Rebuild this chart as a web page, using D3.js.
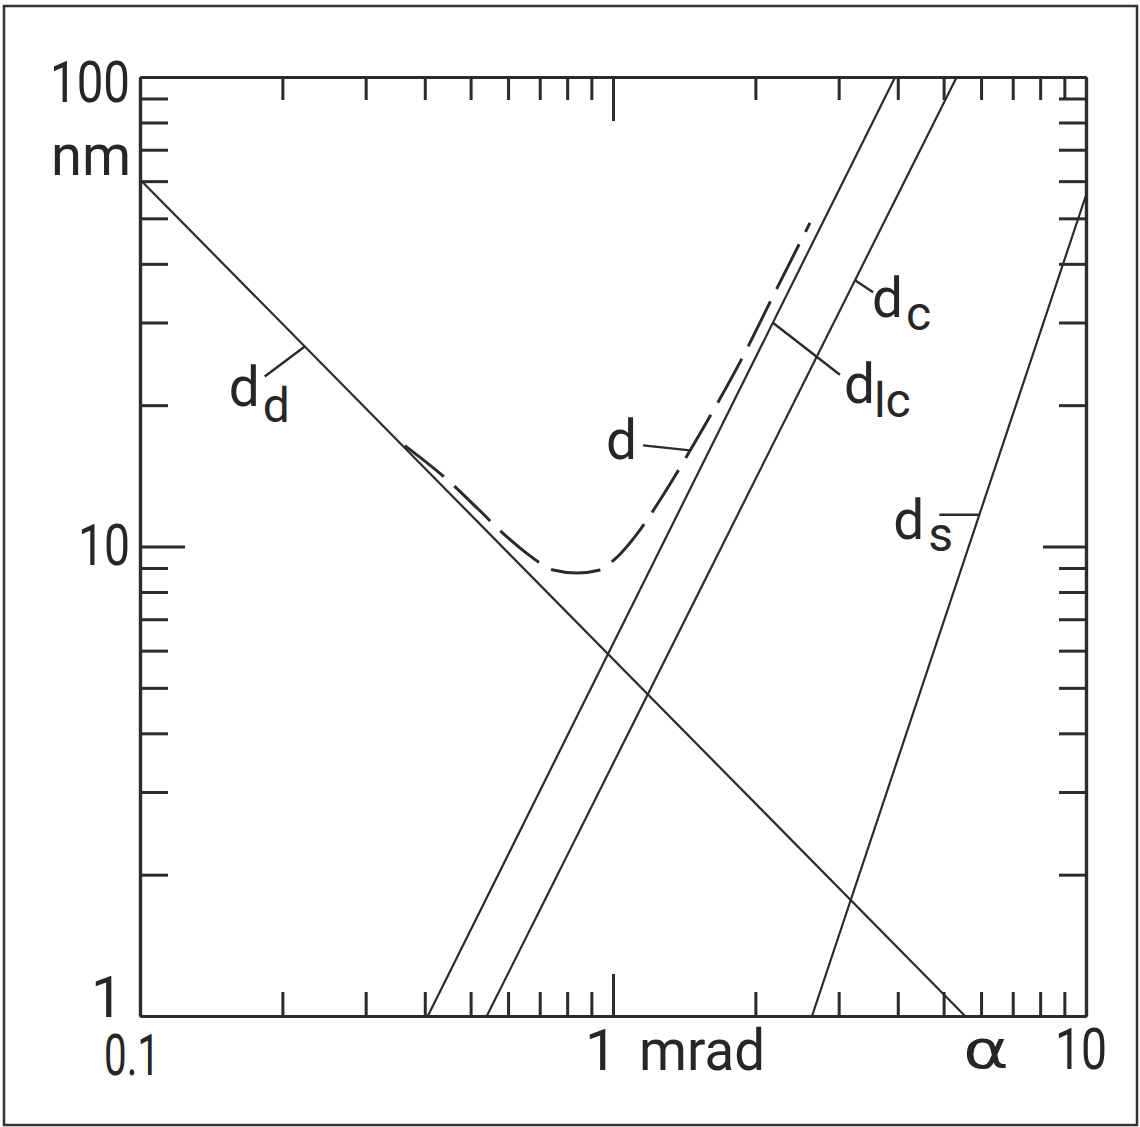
<!DOCTYPE html>
<html>
<head>
<meta charset="utf-8">
<script src="https://cdn.jsdelivr.net/npm/d3@7"></script>
<style>
  html, body { margin: 0; padding: 0; background: #fff; }
  svg { display: block; }
  text { font-family: Roboto, "DejaVu Sans", sans-serif; font-weight: 400; fill: #262626; }
  text.greek { font-family: "DejaVu Sans", sans-serif; }
</style>
</head>
<body>
<svg id="chart" width="1140" height="1127"></svg>
<script>
// Probe size limits (nm) versus aperture angle alpha (mrad), log-log.
const diffraction   = [[0.1, 60.5], [5.55, 1]];     // d_d
const chromaticLong = [[0.406, 1], [3.95, 100]];    // d_lc
const chromatic     = [[0.541, 1], [5.33, 100]];    // d_c
const spherical     = [[2.635, 1], [10, 56]];       // d_s
const total = [                                     // d (combined)
  [0.363, 16.4], [0.452, 13.72], [0.5185, 12.02], [0.597, 10.48],
  [0.668, 9.55], [0.747, 8.91], [0.839, 8.78], [0.939, 8.91],
  [1.005, 9.36], [1.14, 10.84], [1.269, 12.75], [1.352, 14.13],
  [1.565, 18.15], [1.856, 24.7], [2.222, 35.5], [2.609, 48.9]
];

const xMinor = [0.2, 0.3, 0.4, 0.5, 0.6, 0.7, 0.8, 0.9, 2, 3, 4, 5, 6, 7, 8, 9];
const xMajor = [1];
const yMinor = [2, 3, 4, 5, 6, 7, 8, 9, 20, 30, 40, 50, 60, 70, 80, 90];
const yMajor = [10];
const xTickLabels = ["0.1", "1", "10"];
const yTickLabels = ["1", "10", "100"];
const xUnit = "mrad";
const yUnit = "nm";
const xSymbol = "\u03b1";

const svg = d3.select("#chart");
const ink = "#2b2b2b";

const x = d3.scaleLog().domain([0.1, 10]).range([140, 1086]);
const y = d3.scaleLog().domain([1, 100]).range([1016, 77]);

// outer frame
svg.append("rect")
  .attr("x", 4).attr("y", 6).attr("width", 1133).attr("height", 1119)
  .attr("fill", "none").attr("stroke", "#333").attr("stroke-width", 2.5);

// axes: four sides, ticks pointing into the plot
function styleAxis(g) {
  g.selectAll("path.domain").attr("stroke", ink).attr("stroke-width", 3.2);
  g.selectAll(".tick line").attr("stroke", ink).attr("stroke-width", 3);
  g.selectAll(".tick text").remove();
}
function axisPair(make, scale, minor, major, minorLen, majorLen, transform) {
  svg.append("g").attr("transform", transform)
    .call(make(scale).tickValues(minor).tickSizeInner(-minorLen).tickSizeOuter(0).tickFormat(""))
    .call(styleAxis);
  svg.append("g").attr("transform", transform)
    .call(make(scale).tickValues(major).tickSizeInner(-majorLen).tickSizeOuter(0).tickFormat(""))
    .call(styleAxis);
}
axisPair(d3.axisBottom, x, xMinor, xMajor, 24, 42, `translate(0,${y(1)})`);
axisPair(d3.axisTop, x, xMinor, xMajor, 23, 44, `translate(0,${y(100)})`);
axisPair(d3.axisLeft, y, yMinor, yMajor, 28, 45, `translate(${x(0.1)},0)`);
axisPair(d3.axisRight, y, yMinor, yMajor, 27, 43, `translate(${x(10)},0)`);

// curves
const line = d3.line().x(d => x(d[0])).y(d => y(d[1]));
const curves = svg.append("g").attr("fill", "none").attr("stroke", ink);
[diffraction, chromaticLong, chromatic, spherical].forEach(s => {
  curves.append("path").attr("d", line(s)).attr("stroke-width", 2.2);
});
curves.append("path")
  .attr("d", line.curve(d3.curveMonotoneX)(total))
  .attr("stroke-width", 3)
  .attr("stroke-dasharray", "50,14");

// text helper
function label(str, px, py, size, opts = {}) {
  const t = svg.append("text")
    .attr("x", px).attr("y", py)
    .attr("font-size", size)
    .attr("text-anchor", opts.anchor || "start")
    .text(str);
  if (opts.cls) t.attr("class", opts.cls);
  if (opts.width) t.attr("textLength", opts.width).attr("lengthAdjust", "spacingAndGlyphs");
  return t;
}

// tick labels
label(yTickLabels[2], 130, 102, 57, { anchor: "end", width: 80 });
label(yUnit, 131, 175, 57, { anchor: "end", width: 80 });
label(yTickLabels[1], 130, 565, 57, { anchor: "end", width: 52 });
label(yTickLabels[0], 123, 1017, 57, { anchor: "end" });
label(xTickLabels[0], x(0.1) - 36, 1075, 57, { width: 56 });
label(xTickLabels[1], x(1) + 4, 1070, 57, { anchor: "end" });
label(xUnit, x(1) + 26, 1070, 57, { width: 126 });
label(xSymbol, 963, 1068, 54, { width: 46, cls: "greek" });
label(xTickLabels[2], 1055, 1069, 57, { width: 52 });

// value of a series at alpha, interpolated in log-log space
function at(series, a) {
  const la = Math.log10(a);
  for (let i = 0; i < series.length - 1; i++) {
    const [a0, v0] = series[i], [a1, v1] = series[i + 1];
    const l0 = Math.log10(a0), l1 = Math.log10(a1);
    if (la >= l0 && la <= l1) {
      const t = (la - l0) / (l1 - l0);
      return Math.pow(10, Math.log10(v0) + t * (Math.log10(v1) - Math.log10(v0)));
    }
  }
  return series[series.length - 1][1];
}

// curve names with leader lines
const names = [
  { series: diffraction,   a: 0.223, lead: [-40, 30],  main: [-76, 59], sub: "d",  subAt: [-42, 75] },
  { series: total,         a: 1.455, lead: [-47, -5],  main: [-84, 9],  sub: null },
  { series: chromaticLong, a: 2.178, lead: [67, 52],   main: [71, 80],  sub: "lc", subAt: [101, 94] },
  { series: chromatic,     a: 3.249, lead: [18, 12],   main: [17, 37],  sub: "c",  subAt: [51, 50] },
  { series: spherical,     a: 5.95,  lead: [-40, 0],   main: [-86, 24], sub: "s",  subAt: [-51, 36] }
];
names.forEach(n => {
  const ax = x(n.a), ay = y(at(n.series, n.a));
  svg.append("line")
    .attr("x1", ax).attr("y1", ay)
    .attr("x2", ax + n.lead[0]).attr("y2", ay + n.lead[1])
    .attr("stroke", ink).attr("stroke-width", 2.4);
  label("d", ax + n.main[0], ay + n.main[1], 56, { width: 31 });
  if (n.sub) label(n.sub, ax + n.subAt[0], ay + n.subAt[1], 48);
});
</script>
</body>
</html>
